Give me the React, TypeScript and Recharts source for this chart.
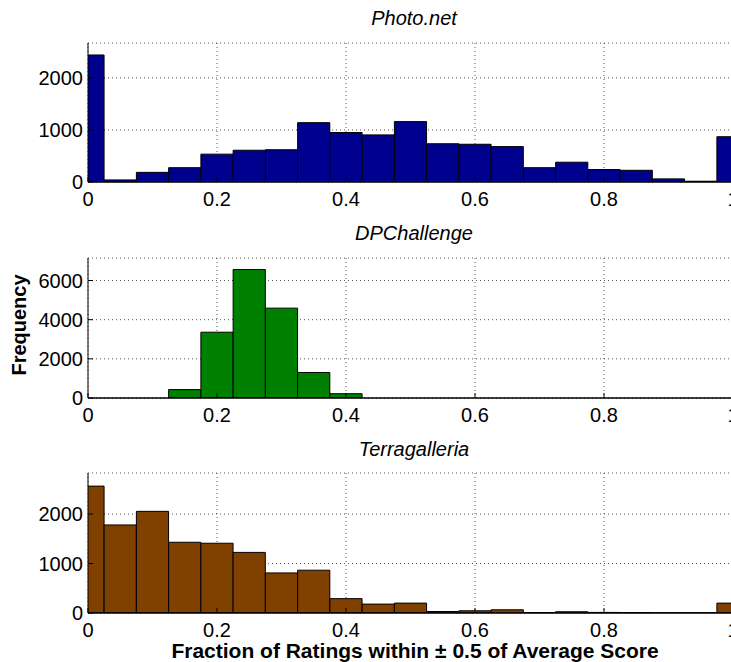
import React from 'react';
import { ComposedChart, Bar, XAxis, YAxis, CartesianGrid } from 'recharts';

// histogram bin centres (bin width 0.05)
const binCenters = [0, 0.05, 0.1, 0.15, 0.2, 0.25, 0.3, 0.35, 0.4, 0.45, 0.5, 0.55, 0.6, 0.65, 0.7, 0.75, 0.8, 0.85, 0.9, 0.95, 1];

const photoNetCounts = [2440, 40, 185, 275, 535, 610, 620, 1140, 950, 905, 1160, 735, 725, 680, 275, 380, 240, 225, 60, 15, 870];
const dpChallengeCounts = [0, 0, 0, 430, 3360, 6560, 4590, 1300, 220, 0, 0, 0, 0, 0, 0, 0, 0, 0, 0, 0, 0];
const terragalleriaCounts = [2565, 1780, 2055, 1430, 1410, 1225, 810, 865, 290, 180, 200, 30, 45, 65, 10, 25, 12, 8, 3, 3, 200];

const xTicks = [0, 0.2, 0.4, 0.6, 0.8, 1];
const photoNetTicks = [0, 1000, 2000];
const dpChallengeTicks = [0, 2000, 4000, 6000];
const terragalleriaTicks = [0, 1000, 2000];

const FONT = '"Liberation Sans", Arial, Helvetica, sans-serif';
const tickStyle = { fontSize: 20, fill: '#000', fontFamily: FONT };

type PanelProps = {
  counts: number[],
  color: string,
  yMax: number,
  yTicks: number[],
  plotTop: number,
  plotHeight: number
}

function Panel({ counts, color, yMax, yTicks, plotTop, plotHeight }: PanelProps) {
  const data = binCenters.map((x, i) => ({ x, count: counts[i] }));
  const plotWidth = 645;
  return (
    <div style={{ position: 'absolute', left: 0, top: plotTop - 5 }}>
      <ComposedChart
        width={760}
        height={plotHeight + 5 + 40}
        data={data}
        margin={{ top: 5, right: 27, bottom: 0, left: 28 }}
      >
        <CartesianGrid stroke="#555" strokeDasharray="1 3" />
        <XAxis
          dataKey="x"
          type="number"
          domain={[0, 1]}
          ticks={xTicks}
          allowDataOverflow
          interval={0}
          height={40}
          tickSize={-5}
          tickMargin={15}
          tick={tickStyle}
          tickLine={{ stroke: '#000' }}
          axisLine={{ stroke: '#000', strokeWidth: 1.5 }}
        />
        <XAxis
          xAxisId="top"
          orientation="top"
          dataKey="x"
          type="number"
          domain={[0, 1]}
          ticks={xTicks}
          interval={0}
          height={0}
          tickSize={-5}
          tickFormatter={() => ''}
          tickLine={{ stroke: '#000' }}
          axisLine={{ stroke: '#333' }}
        />
        <YAxis
          type="number"
          domain={[0, yMax]}
          ticks={yTicks}
          allowDataOverflow
          interval={0}
          width={60}
          tickSize={-5}
          tickMargin={10}
          tick={tickStyle}
          tickLine={{ stroke: '#000' }}
          axisLine={{ stroke: '#000' }}
        />
        <YAxis
          yAxisId="right"
          orientation="right"
          type="number"
          domain={[0, yMax]}
          ticks={yTicks}
          interval={0}
          width={0}
          tickSize={-5}
          tickFormatter={() => ''}
          tickLine={{ stroke: '#555' }}
          axisLine={{ stroke: '#000' }}
        />
        <Bar
          dataKey="count"
          fill={color}
          stroke="#000"
          strokeWidth={1}
          barSize={plotWidth * 0.05 - 0.05}
          isAnimationActive={false}
        />
      </ComposedChart>
    </div>
  );
}

export default function App() {
  return (
    <div style={{ position: 'fixed', left: 0, top: 0, width: 731, height: 662, overflow: 'hidden', background: '#fff', fontFamily: FONT }}>
      <Panel counts={photoNetCounts} color="#00008f" yMax={2670} yTicks={photoNetTicks} plotTop={43} plotHeight={139} />
      <Panel counts={dpChallengeCounts} color="#008000" yMax={7150} yTicks={dpChallengeTicks} plotTop={258} plotHeight={140} />
      <Panel counts={terragalleriaCounts} color="#804000" yMax={2830} yTicks={terragalleriaTicks} plotTop={473} plotHeight={140} />
      <svg width={731} height={662} style={{ position: 'absolute', left: 0, top: 0, pointerEvents: 'none' }}>
        <g fontFamily={FONT} fill="#000" textAnchor="middle">
          <text x={414} y={25} fontSize={20} fontStyle="italic">Photo.net</text>
          <text x={414} y={240} fontSize={20} fontStyle="italic">DPChallenge</text>
          <text x={414} y={456} fontSize={20} fontStyle="italic">Terragalleria</text>
          <text transform="translate(26, 325) rotate(-90)" fontSize={20} fontWeight="bold">Frequency</text>
          <text x={415} y={658} fontSize={21} fontWeight="bold">Fraction of Ratings within ± 0.5 of Average Score</text>
        </g>
      </svg>
    </div>
  );
}
